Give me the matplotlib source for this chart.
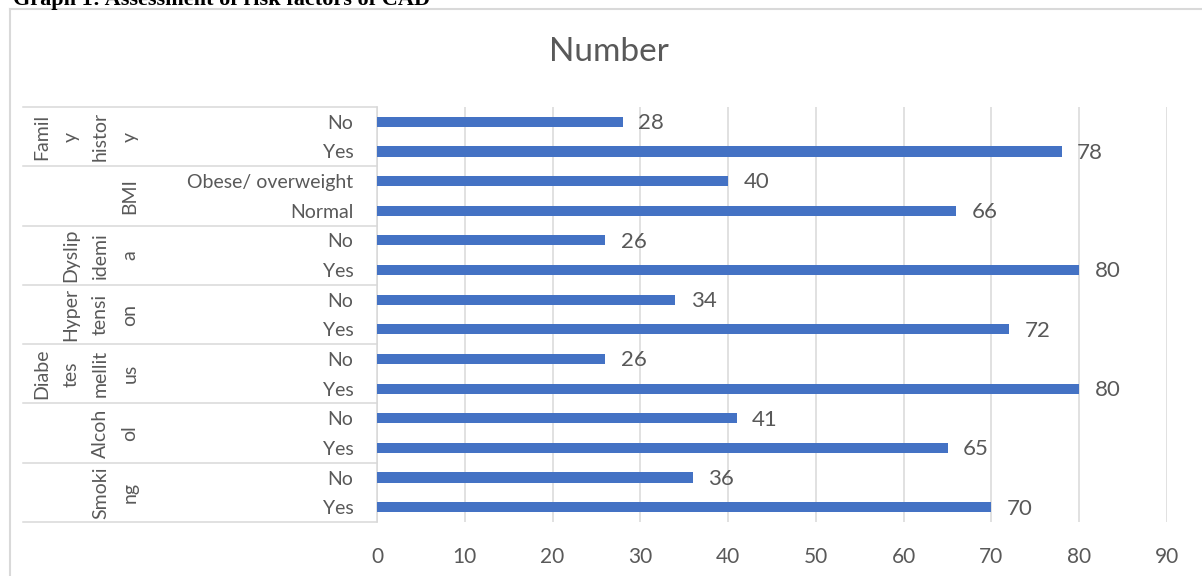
import matplotlib

matplotlib.use("Agg")
import matplotlib.pyplot as plt
from matplotlib.lines import Line2D
from matplotlib.transforms import blended_transform_factory

plt.rcParams["font.family"] = ["Lato", "DejaVu Sans"]

# rows listed top to bottom, two per risk factor
groups = ["Family history", "BMI", "Dyslipidemia", "Hypertension",
          "Diabetes mellitus", "Alcohol", "Smoking"]
# group names as Excel wrapped them in the narrow label column
group_lines = [["Famil", "y", "histor", "y"], ["BMI"], ["Dyslip", "idemi", "a"],
               ["Hyper", "tensi", "on"], ["Diabe", "tes", "mellit", "us"],
               ["Alcoh", "ol"], ["Smoki", "ng"]]
categories = ["No", "Yes", "Obese/ overweight", "Normal", "No", "Yes", "No", "Yes",
              "No", "Yes", "No", "Yes", "No", "Yes"]
values = [28, 78, 40, 66, 26, 80, 34, 72, 26, 80, 41, 65, 36, 70]
xticks = [0, 10, 20, 30, 40, 50, 60, 70, 80, 90]

W, H = 1202, 576
TXT = "#595959"
GRID = "#D9D9D9"
BAR = "#4472C4"

fig = plt.figure(figsize=(W / 100, H / 100), dpi=100)
ax = fig.add_axes([377 / W, 1 - 522 / H, (1167 - 377) / W, (522 - 107) / H])

ys = list(range(len(values)))
ax.barh(ys, values, height=0.34, color=BAR, zorder=3)
for y, v in zip(ys, values):
    ax.annotate(f"{v}", (v, y), xytext=(11, -1), textcoords="offset points",
                ha="left", va="center", fontsize=16, color=TXT)

ax.set_xlim(0, 90)
ax.set_ylim(len(values) - 0.5, -0.5)
ax.set_xticks(xticks)
ax.set_yticks(ys)
ax.set_yticklabels(categories)
ax.tick_params(axis="y", length=0, pad=17, labelsize=14, labelcolor=TXT)
ax.tick_params(axis="x", length=0, pad=18, labelsize=15, labelcolor=TXT)
ax.grid(axis="x", color=GRID, lw=1.1, zorder=0)
for s in ("top", "right", "bottom"):
    ax.spines[s].set_visible(False)
ax.spines["left"].set_color(GRID)
ax.spines["left"].set_linewidth(1.1)

# second category level: separators and rotated group names
tr = blended_transform_factory(fig.transFigure, ax.transData)
for k in range(len(groups) + 1):
    yb = 2 * k - 0.5
    fig.add_artist(Line2D([23 / W, 377 / W], [yb, yb], transform=tr,
                          color=GRID, lw=1.1))
for g, lines in enumerate(group_lines):
    n = len(lines)
    for i, t in enumerate(lines):
        x = 130 - (n - 1 - i) * 29.5
        fig.text(x / W, 2 * g + 0.5, t, transform=tr, rotation=90,
                 ha="center", va="center", fontsize=14, color=TXT)

fig.text(609 / W, 1 - 52 / H, "Number", ha="center", va="center",
         fontsize=24, color=TXT)

# chart frame (runs off the right and bottom of the crop)
fig.add_artist(Line2D([10 / W, 10 / W], [-0.1, 1 - 9 / H],
                      transform=fig.transFigure, color=GRID, lw=1.5))
fig.add_artist(Line2D([10 / W, 1.1], [1 - 9 / H, 1 - 9 / H],
                      transform=fig.transFigure, color=GRID, lw=1.5))

# caption above the chart, cut by the top edge as in the source crop
fig.text(13 / W, 1 - 5 / H, "Graph 1: Assessment of risk factors of CAD",
         family="Liberation Serif", weight="bold", fontsize=16,
         ha="left", va="baseline", color="black")

fig.savefig("out.png", dpi=100)
